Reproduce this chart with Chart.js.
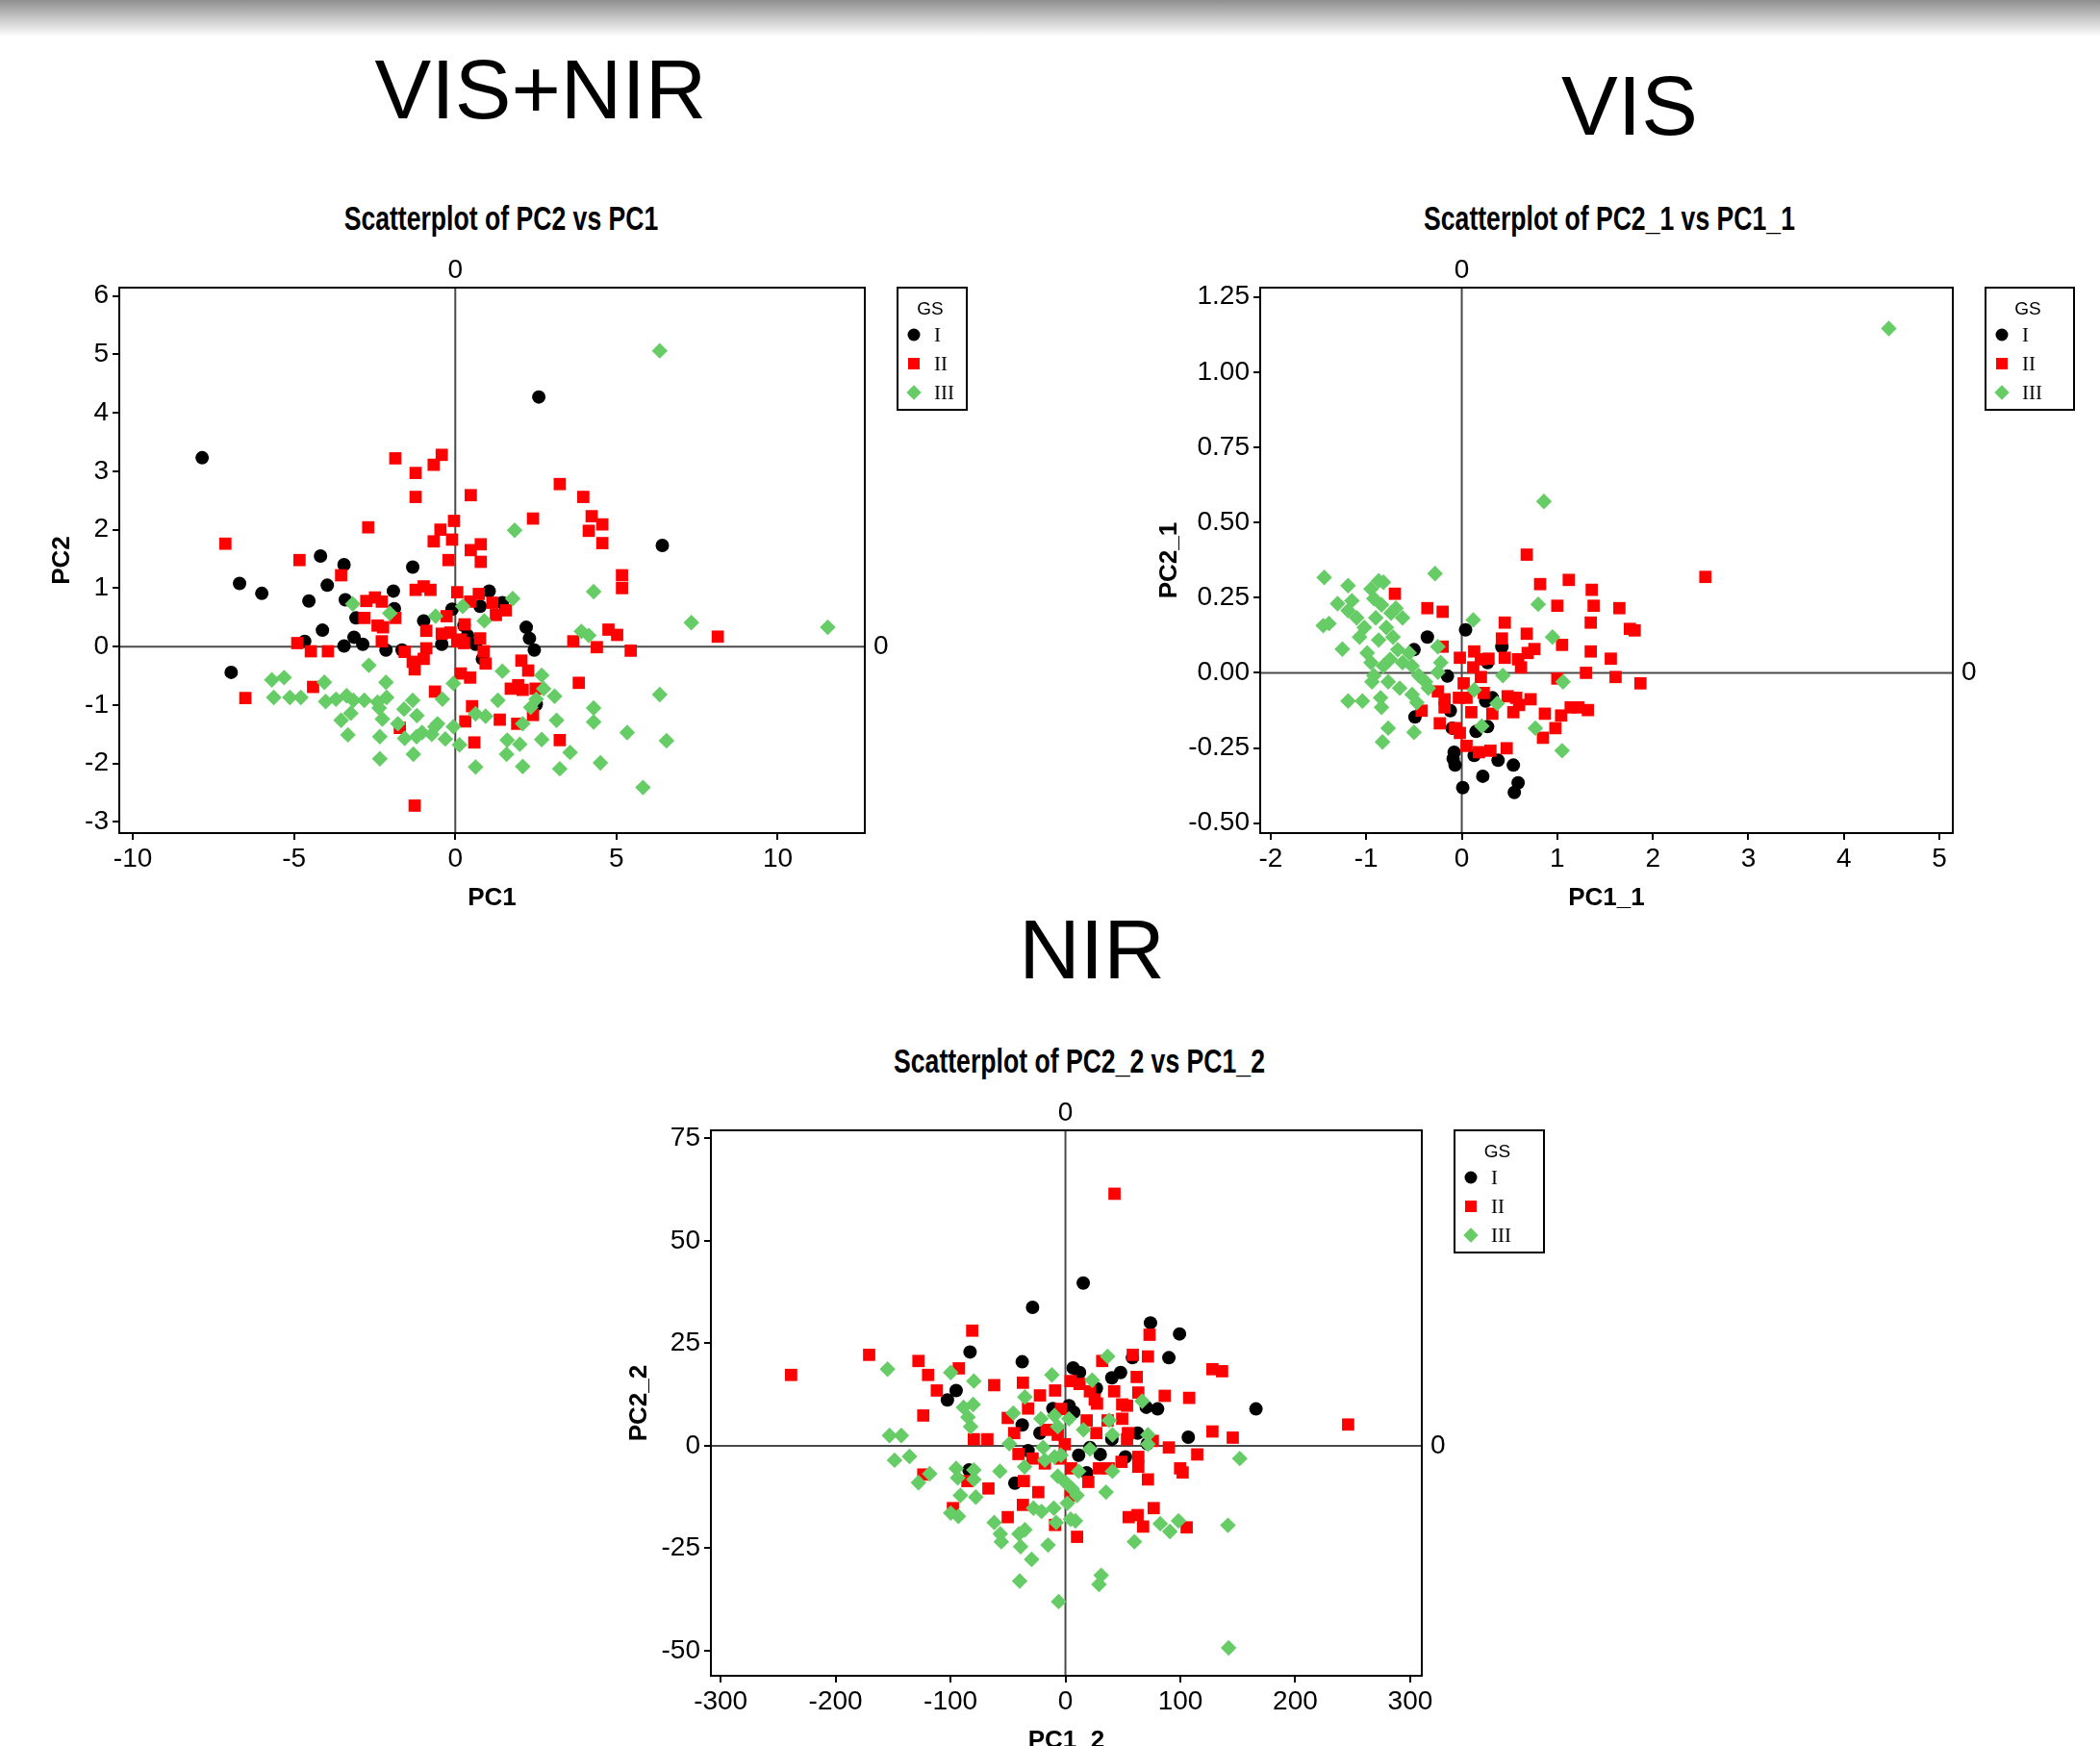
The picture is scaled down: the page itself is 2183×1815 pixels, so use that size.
<!DOCTYPE html>
<html>
<head>
<meta charset="utf-8">
<title>PCA - VIS+NIR, VIS, NIR</title>
<script src="https://cdn.jsdelivr.net/npm/chart.js@4.4.1/dist/chart.umd.min.js"></script>
<style>
  html, body { margin: 0; padding: 0; background: #fff; }
  body { width: 2183px; height: 1815px; position: relative; overflow: hidden; }
  .franja { position: absolute; left: 0; top: 0; width: 100%; height: 38px; background: linear-gradient(#8f8f8f, #ffffff); }
  .cabecera { position: absolute; font-family: 'Liberation Sans', Arial, sans-serif; font-size: 88px; line-height: 1; color: #000; white-space: nowrap; transform: translate(-50%, -50%); }
  .titulo { position: absolute; font-family: 'Liberation Sans', Arial, sans-serif; font-weight: bold; font-size: 35px; line-height: 1; color: #000; white-space: nowrap; transform: translate(-50%, -50%) scaleX(0.76); }
  canvas { position: absolute; }
</style>
</head>
<body>
<div class="franja"></div>
<div class="cabecera" style="left:562px;top:93px">VIS+NIR</div>
<div class="cabecera" style="left:1694px;top:110px">VIS</div>
<div class="cabecera" style="left:1135px;top:987px">NIR</div>
<div class="titulo" style="left:521px;top:226px">Scatterplot of PC2 vs PC1</div>
<div class="titulo" style="left:1673px;top:226px">Scatterplot of PC2_1 vs PC1_1</div>
<div class="titulo" style="left:1122px;top:1102px">Scatterplot of PC2_2 vs PC1_2</div>
<canvas id="g1" width="1010" height="700" style="left:30px;top:250px"></canvas>
<canvas id="g2" width="1000" height="700" style="left:1180px;top:250px"></canvas>
<canvas id="g3" width="1020" height="710" style="left:620px;top:1120px"></canvas>
<script>
// Grupos (GS)
const grupos = ['I', 'II', 'III'];

// ---- VIS+NIR: PC1 / PC2 ----
const pc1_I = [-7.85, 2.59, 6.42, -6.69, -6.00, -6.95, -4.18, -3.45, -3.97, -4.54, -4.12, -3.41, -3.08, -3.14, -3.45, -2.87, -4.67, -1.92, -1.32, -2.15, -1.65, -0.98, -0.42, -0.10, 0.27, 0.38, 0.77, 1.05, 1.46, 2.20, 2.30, 2.45, 2.51, 0.84, 0.63, -1.89];
const pc2_I = [3.23, 4.27, 1.73, 1.08, 0.91, -0.44, 1.55, 1.40, 1.05, 0.78, 0.28, 0.80, 0.49, 0.16, 0.01, 0.04, 0.09, 0.95, 1.36, -0.06, -0.06, 0.44, 0.04, 0.64, 0.36, 0.19, 0.69, 0.95, 0.75, 0.33, 0.14, -0.06, -0.99, -0.21, 0.04, 0.65];
const pc1_II = [-7.13, -6.51, -4.83, -4.90, -4.48, -3.95, -4.41, -3.54, -2.70, -1.86,
  -1.23, -1.23, -0.67, -0.42, 0.48, -0.04, -0.46, -0.67, -0.10, 0.48,
  0.79, 0.79, -0.21, -1.23, -0.98, -0.77, 0.06, 0.73, -2.76, -2.49,
  -2.28, -2.82, -2.41, -2.24, -1.86, -2.28, -1.57, -1.32, -1.26, -0.98,
  -0.90, -0.27, -0.42, -0.15, 0.06, 0.27, 0.77, 1.15, 1.26, 1.57,
  0.46, 0.88, 0.94, 2.05, 2.26, 0.17, 0.46, -0.63, 0.52, 0.31,
  0.59, -1.72, -1.26, 1.38, 1.72, 1.95, 2.09, 2.49, 2.41, 1.92,
  3.24, 3.83, 3.66, 4.39, 4.75, 5.02, 5.44, 5.17, 5.17, 4.56,
  4.56, 4.23, 4.14, 3.97, 3.24, 2.41, 8.14, 0.17, -0.90, 0.29];
const pc2_II = [1.76, -0.88, 1.48, 0.06, -0.08, -0.08, -0.69, 1.22, 2.04, 3.22,
  2.97, 2.56, 3.11, 3.28, 2.59, 2.15, 2.00, 1.80, 1.83, 1.65,
  1.75, 1.45, 1.48, 0.97, 1.03, 0.97, 0.93, 0.90, 0.78, 0.84,
  0.77, 0.49, 0.36, 0.33, 0.49, 0.09, -0.09, -0.26, -0.39, -0.21,
  0.27, 0.52, 0.22, 0.24, 0.09, 0.06, 0.14, 0.75, 0.54, 0.62,
  0.77, -0.08, -0.29, -0.24, -0.41, -0.46, -0.53, -0.77, -1.02, -1.28,
  -1.64, -1.39, -2.72, -1.25, -0.72, -0.66, -0.74, -0.72, -1.17, -1.32,
  -1.60, -0.62, 0.09, -0.01, 0.29, 0.20, -0.07, 1.22, 1.00, 1.77,
  2.09, 2.23, 1.98, 2.56, 2.78, 2.19, 0.17, 0.12, -0.03, 0.38];
const pc1_III = [6.34, 11.55, 7.32, 6.34, 6.55, 5.33, 5.82, 4.50, 4.29, 4.29,
  3.56, 3.24, 3.14, 3.08, 4.29, 3.91, 4.14, 1.84, 1.78, 0.90,
  0.23, -0.61, -2.03, -3.18, -2.68, -2.15, -4.06, -5.69, -5.31, -5.63,
  -5.13, -4.79, -4.02, -3.70, -3.37, -3.16, -2.82, -2.41, -2.13, -3.54,
  -3.24, -3.33, -2.36, -2.26, -2.34, -2.34, -1.78, -1.57, -1.30, -1.59,
  -1.32, -1.19, -1.03, -0.73, -0.63, -0.31, -0.06, 0.13, -0.40, -0.06,
  0.63, 0.63, 0.94, 1.32, 1.46, 1.61, 1.59, 2.00, 2.09, 2.09,
  2.34, 2.51, 2.68, 2.74, 2.68, -1.20, -0.55];
const pc2_III = [5.06, 0.33, 0.41, -0.82, -1.61, -1.47, -2.41, -1.99, -1.05, -1.29,
  -1.81, -2.09, -1.26, -0.85, 0.94, 0.26, 0.19, 1.99, 0.82, 0.44,
  0.69, 0.52, 0.57, 0.73, -0.32, -0.61, -0.61, -0.57, -0.53, -0.87,
  -0.87, -0.87, -0.94, -0.90, -0.84, -0.92, -0.92, -0.95, -0.87, -1.26,
  -1.14, -1.51, -1.05, -1.24, -1.54, -1.92, -1.32, -1.57, -1.84, -1.07,
  -0.92, -1.18, -1.47, -1.50, -1.37, -1.58, -1.37, -1.68, -0.90, -0.63,
  -2.06, -1.15, -1.19, -0.92, -0.42, -1.60, -1.84, -1.67, -2.05, -1.32,
  -1.04, -0.90, -0.49, -0.72, -1.59, -1.54, -1.32];
const ticksX1 = [-10, -5, 0, 5, 10];
const ticksY1 = [-3, -2, -1, 0, 1, 2, 3, 4, 5, 6];

// ---- VIS: PC1_1 / PC2_1 ----
const pc1_1_I = [0.04, -0.36, -0.50, -0.15, -0.49, -0.12, -0.10, 0.15, 0.25, 0.32,
  0.27, -0.08, -0.09, -0.07, 0.13, 0.38, 0.54, 0.22, 0.59, 0.55,
  0.01, 0.42, 0.27];
const pc2_1_I = [0.143, 0.119, 0.077, -0.011, -0.147, -0.126, -0.184, -0.195, -0.094, -0.083,
  -0.179, -0.264, -0.286, -0.307, -0.275, -0.291, -0.307, -0.344, -0.366, -0.398,
  -0.382, 0.087, 0.034];
const pc1_1_II = [-0.70, -0.36, -0.20, -0.20, 0.45, 0.42, 0.68, 0.82, 1.12, 1.36,
  1.38, 1.00, 1.65, 1.76, 1.81, 1.35, 1.05, 1.35, 1.56, 1.30,
  1.61, 1.87, 1.00, 0.76, 0.69, 0.59, 0.45, 0.62, -0.02, 0.13,
  0.20, 0.28, 0.12, 0.20, 0.02, 0.05, -0.25, -0.18, -0.18, -0.03,
  0.10, 0.23, 0.48, 0.57, 0.72, 0.60, 0.54, 0.87, 1.04, 1.14,
  1.22, 1.32, 0.98, 0.85, 0.47, 0.30, 0.18, 0.05, -0.02, -0.07,
  -0.23, -0.42, 0.32, 2.55, 0.68];
const pc2_1_II = [0.263, 0.215, 0.203, 0.087, 0.167, 0.114, 0.130, 0.295, 0.309, 0.276,
  0.223, 0.223, 0.215, 0.146, 0.141, 0.167, 0.093, 0.071, 0.047, 0.000,
  -0.014, -0.035, -0.019, 0.079, 0.066, 0.045, 0.050, 0.018, 0.050, 0.071,
  0.045, 0.047, 0.018, -0.014, -0.035, -0.083, -0.062, -0.088, -0.115, -0.083,
  -0.131, -0.067, -0.078, -0.083, -0.088, -0.107, -0.131, -0.136, -0.142, -0.115,
  -0.115, -0.124, -0.184, -0.216, -0.251, -0.259, -0.264, -0.243, -0.200, -0.184,
  -0.168, -0.126, -0.136, 0.319, 0.393];
const pc1_1_III = [-1.44, -0.28, -1.19, -1.30, -1.15, -1.45, -1.39, -1.25, -1.19, -1.10,
  -1.07, -1.02, -0.95, -0.92, -0.90, -0.87, -0.82, -0.84, -0.87, -0.79,
  -0.74, -0.69, -0.62, -0.72, -0.67, -0.99, -0.95, -0.92, -0.82, -0.75,
  -0.62, -0.55, -0.52, -0.45, -0.38, -0.25, -0.22, -0.25, -0.35, -0.52,
  -0.47, -0.85, -1.04, -1.19, -0.84, -0.77, -0.83, -0.50, -0.77, -0.94,
  -0.65, 0.12, 0.80, 0.95, 0.43, 0.13, 0.37, 0.21, 0.77, 1.05,
  1.06, 4.47, 0.86];
const pc2_1_III = [0.317, 0.33, 0.29, 0.23, 0.24, 0.157, 0.164, 0.079, 0.207, 0.183,
  0.119, 0.151, 0.279, 0.247, 0.183, 0.306, 0.301, 0.226, 0.109, 0.151,
  0.199, 0.215, 0.183, 0.119, 0.077, 0.066, 0.034, -0.009, 0.023, 0.045,
  0.034, 0.066, 0.023, -0.009, -0.030, 0.087, 0.034, 0.002, -0.051, -0.072,
  -0.099, -0.083, -0.094, -0.094, -0.115, -0.184, -0.230, -0.198, -0.030, -0.030,
  -0.051, 0.176, 0.228, 0.119, -0.009, -0.057, -0.102, -0.177, -0.184, -0.259,
  -0.030, 1.145, 0.57];
const ticksX2 = [-2, -1, 0, 1, 2, 3, 4, 5];
const ticksY2 = [-0.5, -0.25, 0, 0.25, 0.5, 0.75, 1.0, 1.25];

// ---- NIR: PC1_2 / PC2_2 ----
const pc1_2_I = [15.5, -28.6, 74.0, 99.3, -83.0, -37.6, 90.0, 58.3, 6.7, 12.3,
  48.0, 40.4, -95.1, -102.7, 165.8, 80.2, 70.4, 26.9, -10.9, 3.1,
  -37.6, -22.2, 106.9, 62.8, 40.4, -32.5, 11.5, 21.3, 30.3, 52.2,
  18.5, -83.9, -44.0, 7.3, 71.2];
const pc2_2_I = [39.7, 33.8, 30.0, 27.3, 22.9, 20.5, 21.5, 21.5, 19.0, 17.9,
  17.9, 16.6, 13.5, 11.2, 9.0, 9.0, 9.4, 14.0, 9.1, 9.8,
  5.1, 3.1, 2.1, 3.1, 1.6, -1.2, -2.3, -0.4, -2.1, -2.7,
  -6.6, -5.9, -9.1, 8.2, 0.5];
const pc1_2_II = [-238.7, 42.7, 246.0, -81.1, -170.8, -127.9, -119.5, -92.8, -111.9, -62.0,
  -123.7, -37.0, -22.2, -9.0, -32.5, -50.2, -44.6, -79.7, -67.9, -3.9,
  4.5, 12.3, 21.3, 25.5, 27.5, 32.0, 58.6, 71.8, 73.2, 62.0,
  42.4, 49.4, 53.6, 63.4, 86.4, 107.7, 127.9, 136.3, 127.9, 145.6,
  114.7, 99.8, 102.0, 90.0, 76.0, 54.4, 49.4, 53.6, 36.7, 26.9,
  18.5, -0.6, -6.7, -16.5, -40.9, -28.6, -17.9, -4.5, 5.0, 29.2,
  37.6, 48.8, 63.4, 63.4, 71.8, 19.9, -36.2, -67.0, -85.3, -123.7,
  -23.6, -37.0, -50.2, -97.9, -9.0, 10.1, 55.0, 62.8, 67.6, 76.8,
  105.5, 4.5];
const pc2_2_II = [17.3, 61.5, 5.2, 28.1, 22.2, 20.7, 17.3, 18.9, 13.5, 14.8,
  7.4, 15.4, 12.3, 13.5, 9.1, 6.8, 3.1, 1.6, 1.6, 9.0,
  15.8, 15.1, 13.3, 11.3, 10.3, 20.7, 22.2, 21.8, 27.1, 16.8,
  13.3, 10.1, 9.8, 13.0, 12.2, 11.7, 18.7, 18.2, 3.5, 2.0,
  -2.1, -5.5, -6.5, -0.4, 1.2, 3.1, 6.6, 1.6, 6.2, 3.1,
  6.2, 0.4, 2.7, 3.9, -2.0, -3.1, -4.3, -3.1, -5.5, -5.5,
  -5.5, -3.9, -2.7, -5.1, -8.2, -8.8, -8.6, -10.4, -8.6, -7.0,
  -11.3, -14.4, -17.4, -15.2, -19.3, -22.2, -17.4, -16.9, -19.7, -15.2,
  -19.9, -12.1];
const pc1_2_III = [142.0, -154.8, -99.8, -79.7, -88.7, -80.3, -84.8, -82.5, -153.1, -142.8,
  -148.7, -135.7, -118.1, -127.9, -95.1, -93.7, -79.7, -79.7, -91.4, -78.0,
  -99.8, -93.1, -62.0, -56.7, -55.8, -40.4, -35.3, -39.0, -29.4, -39.8,
  -15.1, -5.9, 31.1, 29.2, 60.0, 82.5, 90.9, 98.4, 141.4, 151.7,
  71.8, 71.8, 66.8, 36.7, 23.3, -11.8, -35.3, -45.4, -48.8, -57.0,
  -35.6, -21.3, -9.5, 3.1, -6.7, 15.7, 38.1, 40.9, 21.3, -19.4,
  -17.9, -9.5, -3.9, -6.7, 0.3, 5.9, 10.1, 11.5, 40.9, 35.3,
  1.7, -27.8, -20.8, -10.1, -8.1, 4.5, 8.7];
const pc2_2_III = [-49.3, 18.7, 17.9, 15.8, 9.4, 10.1, 7.0, 4.7, 2.5, 2.5,
  -3.5, -2.6, -6.8, -9.0, -5.5, -7.8, -5.9, -8.2, -12.1, -12.5,
  -16.4, -17.2, -18.7, -21.5, -23.4, -21.5, -20.5, -24.6, -27.7, -33.0,
  -24.2, -38.0, -31.6, -33.8, -23.4, -19.0, -20.9, -18.3, -19.4, -3.1,
  2.7, 0.4, 10.9, 21.8, 16.0, 17.3, 11.9, 8.0, 0.5, -6.2,
  -5.1, 6.6, 7.4, 6.6, 4.7, 3.9, 6.2, 2.7, -0.8, -0.4,
  -3.5, -2.7, -2.3, -7.4, -9.0, -10.5, -12.1, -6.2, -6.2, -11.3,
  -14.0, -15.2, -16.0, -15.2, -18.7, -17.9, -18.3];
const ticksX3 = [-300, -200, -100, 0, 100, 200, 300];
const ticksY3 = [-50, -25, 0, 25, 50, 75];

const LETRA = "'Liberation Sans', Arial, sans-serif";
Chart.defaults.font.family = LETRA;
Chart.defaults.color = '#000';

// estilo de cada grupo (igual que en Minitab)
const estilos = {
  I:   { color: '#000000', forma: 'circle',  radio: 7 },
  II:  { color: '#ff0000', forma: 'rect',    radio: 9 },
  III: { color: '#66cc66', forma: 'rectRot', radio: 8.2 }
};

const puntos = (xs, ys) => xs.map((x, i) => ({ x: x, y: ys[i] }));

function marca(ctx, forma, x, y, r) {
  ctx.beginPath();
  if (forma === 'circle') {
    ctx.arc(x, y, r, 0, Math.PI * 2);
  } else if (forma === 'rect') {
    const s = r * Math.SQRT1_2;
    ctx.rect(x - s, y - s, 2 * s, 2 * s);
  } else {
    ctx.moveTo(x, y - r); ctx.lineTo(x + r, y); ctx.lineTo(x, y + r); ctx.lineTo(x - r, y);
    ctx.closePath();
  }
  ctx.fill();
}

// lineas de referencia en 0, marco y leyenda GS
const marcoPlugin = {
  id: 'marco',
  beforeDatasetsDraw(chart) {
    const { ctx, chartArea: a, scales } = chart;
    const x0 = scales.x.getPixelForValue(0);
    const y0 = scales.y.getPixelForValue(0);
    ctx.save();
    ctx.strokeStyle = '#4a4a4a';
    ctx.lineWidth = 2;
    ctx.beginPath();
    ctx.moveTo(x0, a.top); ctx.lineTo(x0, a.bottom);
    ctx.moveTo(a.left, y0); ctx.lineTo(a.right, y0);
    ctx.stroke();
    ctx.fillStyle = '#000';
    ctx.font = '28px ' + LETRA;
    ctx.textBaseline = 'middle';
    ctx.textAlign = 'center';
    ctx.fillText('0', x0, a.top - 18);
    ctx.textAlign = 'left';
    ctx.fillText('0', a.right + 9, y0);
    ctx.restore();
  },
  afterDraw(chart, args, opts) {
    const { ctx, chartArea: a } = chart;
    ctx.save();
    ctx.strokeStyle = '#000';
    ctx.lineWidth = 2;
    ctx.strokeRect(a.left, a.top, a.right - a.left, a.bottom - a.top);

    const lx = a.right + 34, ly = a.top, lw = opts.ancho, lh = 127;
    ctx.strokeRect(lx, ly, lw, lh);
    ctx.fillStyle = '#000';
    ctx.font = '19px ' + LETRA;
    ctx.textAlign = 'center';
    ctx.textBaseline = 'middle';
    ctx.fillText('GS', lx + lw / 2 - 2, ly + 23);
    ctx.font = "21px 'Liberation Serif', 'Times New Roman', serif";
    ctx.textAlign = 'left';
    grupos.forEach((g, i) => {
      const yy = ly + 49 + i * 30;
      ctx.fillStyle = estilos[g].color;
      marca(ctx, estilos[g].forma, lx + 17, yy, estilos[g].radio - 0.5);
      ctx.fillStyle = '#000';
      ctx.fillText(g, lx + 38, yy + 1);
    });
    ctx.restore();
  }
};

function hacerGrafico(id, c) {
  const datasets = grupos.map((g, i) => ({
    label: g,
    data: puntos(c.xs[i], c.ys[i]),
    pointStyle: estilos[g].forma,
    pointRadius: estilos[g].radio,
    pointHoverRadius: estilos[g].radio,
    backgroundColor: estilos[g].color,
    borderWidth: 0,
    order: 3 - i
  }));

  new Chart(document.getElementById(id), {
    type: 'scatter',
    data: { datasets: datasets },
    options: {
      responsive: false,
      animation: false,
      layout: { padding: { left: 0, top: c.padTop, right: c.padRight, bottom: 0 } },
      plugins: {
        legend: { display: false },
        tooltip: { enabled: false },
        marco: { ancho: c.anchoLeyenda }
      },
      scales: {
        x: {
          type: 'linear',
          min: c.xMin, max: c.xMax,
          afterBuildTicks: ax => { ax.ticks = c.ticksX.map(v => ({ value: v })); },
          afterFit: ax => { ax.height = c.altoX; },
          border: { display: false },
          grid: { drawOnChartArea: false, tickLength: 7, color: '#000', lineWidth: 2 },
          ticks: { padding: 3, font: { size: 28 }, color: '#000', callback: v => String(v) },
          title: { display: true, text: c.tituloX, font: { size: 26, weight: 'bold' }, padding: { top: 0, bottom: c.padTituloX } }
        },
        y: {
          type: 'linear',
          min: c.yMin, max: c.yMax,
          afterBuildTicks: ax => { ax.ticks = c.ticksY.map(v => ({ value: v })); },
          afterFit: ax => { ax.width = c.anchoY; },
          border: { display: false },
          grid: { drawOnChartArea: false, tickLength: 7, color: '#000', lineWidth: 2 },
          ticks: { padding: 4, font: { size: 28 }, color: '#000', callback: v => v.toFixed(c.decY) },
          title: { display: true, text: c.tituloY, font: { size: 26, weight: 'bold' }, padding: { top: c.padTituloY, bottom: 0 } }
        }
      }
    },
    plugins: [marcoPlugin]
  });
}

hacerGrafico('g1', {
  xs: [pc1_I, pc1_II, pc1_III], ys: [pc2_I, pc2_II, pc2_III],
  xMin: -10.42, xMax: 12.70, yMin: -3.19, yMax: 6.14,
  ticksX: ticksX1, ticksY: ticksY1, decY: 0,
  tituloX: 'PC1', tituloY: 'PC2',
  padTop: 49, padRight: 141, anchoY: 94, altoX: 84,
  padTituloX: 1, padTituloY: 19, anchoLeyenda: 72
});

hacerGrafico('g2', {
  xs: [pc1_1_I, pc1_1_II, pc1_1_III], ys: [pc2_1_I, pc2_1_II, pc2_1_III],
  xMin: -2.11, xMax: 5.14, yMin: -0.533, yMax: 1.281,
  ticksX: ticksX2, ticksY: ticksY2, decY: 2,
  tituloX: 'PC1_1', tituloY: 'PC2_1',
  padTop: 49, padRight: 150, anchoY: 130, altoX: 84,
  padTituloX: 1, padTituloY: 20, anchoLeyenda: 92
});

hacerGrafico('g3', {
  xs: [pc1_2_I, pc1_2_II, pc1_2_III], ys: [pc2_2_I, pc2_2_II, pc2_2_III],
  xMin: -308.5, xMax: 310.1, yMin: -56.1, yMax: 76.97,
  ticksX: ticksX3, ticksY: ticksY3, decY: 0,
  tituloX: 'PC1_2', tituloY: 'PC2_2',
  padTop: 55, padRight: 162, anchoY: 119, altoX: 88,
  padTituloX: 5, padTituloY: 29, anchoLeyenda: 93
});
</script>
</body>
</html>
